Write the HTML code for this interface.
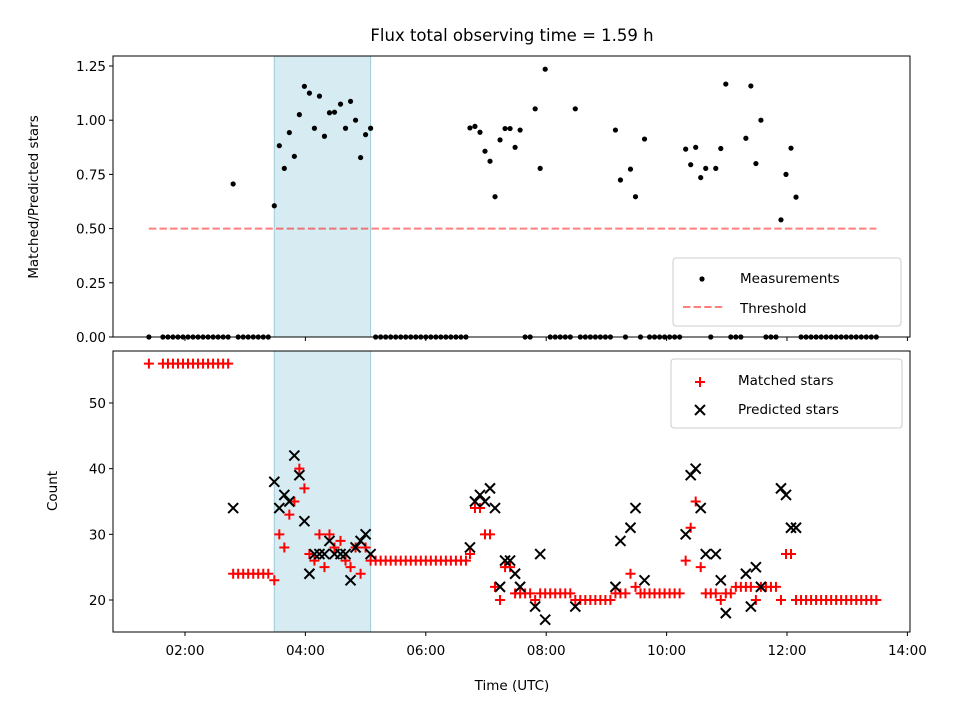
<!DOCTYPE html>
<html><head><meta charset="utf-8"><style>
body{margin:0;background:#fff}
svg{display:block;font-family:"DejaVu Sans","Liberation Sans",sans-serif}
</style></head><body>
<svg id="chart" width="960" height="720" xmlns="http://www.w3.org/2000/svg"></svg>
<script>
// data (time in minutes since 00:00 UTC)
const times = [84,98,103,108,113,118,123,128,133,138,143,148,153,158,163,168,173,178,183,188,193,198,203,209,214,219,224,229,234,239,244,249,254,259,264,269,275,280,285,290,295,300,305,310,315,320,325,330,335,340,345,350,355,360,365,370,375,380,385,390,395,400,404,409,414,419,424,429,434,439,444,449,454,459,464,469,474,479,484,489,494,499,504,509,514,519,524,529,534,539,544,549,554,559,564,569,574,578,583,588,593,598,603,608,613,619,624,629,634,639,644,649,654,659,664,669,674,679,684,689,694,699,704,709,714,719,724,729,734,739,744,749,754,759,764,769,774,779,784,789,794,799,804,809];
const matched = [56,56,56,56,56,56,56,56,56,56,56,56,56,56,56,24,24,24,24,24,24,24,24,23,30,28,33,35,40,37,27,26,30,25,30,28,29,26,25,28,24,28,26,26,26,26,26,26,26,26,26,26,26,26,26,26,26,26,26,26,26,26,27,34,34,30,30,22,20,25,25,21,21,21,21,20,21,21,21,21,21,21,21,20,20,20,20,20,20,20,20,21,21,21,24,22,21,21,21,21,21,21,21,21,21,26,31,35,25,21,21,21,20,21,21,22,22,22,22,20,22,22,22,22,20,27,27,20,20,20,20,20,20,20,20,20,20,20,20,20,20,20,20,20];
const predicted = [null,null,null,null,null,null,null,null,null,null,null,null,null,null,null,34,null,null,null,null,null,null,null,38,34,36,35,42,39,32,24,27,27,27,29,27,27,27,23,28,29,30,27,null,null,null,null,null,null,null,null,null,null,null,null,null,null,null,null,null,null,null,28,35,36,35,37,34,22,26,26,24,22,null,null,19,27,17,null,null,null,null,null,19,null,null,null,null,null,null,null,22,29,null,31,34,null,23,null,null,null,null,null,null,null,30,39,40,34,27,null,27,23,18,null,null,null,24,19,25,22,null,null,null,37,36,31,31,null,null,null,null,null,null,null,null,null,null,null,null,null,null,null,null];
const threshold = [0.5];
const thresholdRange = [84, 809];
const shadeRange = [209, 305];
const xTicks = [120,240,360,480,600,720,840];
const xTickLabels = ["02:00","04:00","06:00","08:00","10:00","12:00","14:00"];
const topTicks = [0,0.25,0.5,0.75,1.0,1.25];
const topTickLabels = ["0.00","0.25","0.50","0.75","1.00","1.25"];
const botTicks = [20,30,40,50];
const botTickLabels = ["20","30","40","50"];

const NS="http://www.w3.org/2000/svg";
const svg=document.getElementById('chart');
function mk(tag,attrs,parent){const e=document.createElementNS(NS,tag);for(const k in attrs)e.setAttribute(k,attrs[k]);(parent||svg).appendChild(e);return e;}
const L=113,R=910;
const X=t=>185+(t-120)*(120.4/120);
const topT=56,topB=337, botT=351,botB=632;
const Yt=v=>337-v*216.8;
const Yb=v=>600-(v-20)*6.567;

let e;
e=mk('text',{x:512,y:41,'text-anchor':'middle','font-size':16.5});e.textContent='Flux total observing time = 1.59 h';


e=mk('text',{x:0,y:0,'text-anchor':'middle','font-size':13.5,transform:'translate(38,197) rotate(-90)'});e.textContent='Matched/Predicted stars';


e=mk('text',{x:0,y:0,'text-anchor':'middle','font-size':13.5,transform:'translate(57,491) rotate(-90)'});e.textContent='Count';


e=mk('text',{x:512,y:690,'text-anchor':'middle','font-size':13.5});e.textContent='Time (UTC)';



[[topT,topB,'top'],[botT,botB,'bottom']].forEach(([a,b,n])=>{
  const r=mk('rect',{x:X(shadeRange[0]),y:a,width:X(shadeRange[1])-X(shadeRange[0]),height:b-a,fill:'#add8e6','fill-opacity':0.5,stroke:'#9fcbd9','stroke-width':1});
  
  
});

e=mk('line',{x1:X(thresholdRange[0]),x2:X(thresholdRange[1]),y1:Yt(threshold[0]),y2:Yt(threshold[0]),stroke:'#ff0000','stroke-opacity':0.5,'stroke-width':2,'stroke-dasharray':'7.4,3.2'});



times.forEach((t,i)=>{
  const p=predicted[i];
  const r=(p==null)?0:matched[i]/p;
  const c=mk('circle',{cx:X(t),cy:Yt(r),r:2.6,fill:'#000'});
  
  
});
times.forEach((t,i)=>{
  const x=X(t),y=Yb(matched[i]);
  const g=mk('path',{d:`M${x-5},${y}H${x+5}M${x},${y-5}V${y+5}`,stroke:'#ff0000','stroke-width':2});
  
  
});
times.forEach((t,i)=>{
  if(predicted[i]==null)return;
  const x=X(t),y=Yb(predicted[i]);
  const g=mk('path',{d:`M${x-5},${y-5}L${x+5},${y+5}M${x-5},${y+5}L${x+5},${y-5}`,stroke:'#000','stroke-width':2});
  
  
});

[[topT,topB,'top'],[botT,botB,'bottom']].forEach(([a,b,n])=>{
  const r=mk('rect',{x:L,y:a,width:R-L,height:b-a,fill:'none',stroke:'#000','stroke-width':1});
  
  
  xTicks.forEach(t=>{const l=mk('line',{x1:X(t),x2:X(t),y1:b,y2:b+4,stroke:'#000'});
    
    });
});
xTicks.forEach((t,i)=>{const tx=mk('text',{x:X(t),y:botB+23,'text-anchor':'middle','font-size':13.5});tx.textContent=xTickLabels[i];
  
  });
topTicks.forEach((v,i)=>{const y=Yt(v);mk('line',{x1:L-4,x2:L,y1:y,y2:y,stroke:'#000'});
  const tx=mk('text',{x:L-7,y:y+5,'text-anchor':'end','font-size':13.5});tx.textContent=topTickLabels[i];
  
  });
botTicks.forEach((v,i)=>{const y=Yb(v);mk('line',{x1:L-4,x2:L,y1:y,y2:y,stroke:'#000'});
  const tx=mk('text',{x:L-7,y:y+5,'text-anchor':'end','font-size':13.5});tx.textContent=botTickLabels[i];
  
  });

e=mk('rect',{x:673,y:258,width:228,height:68,rx:3,fill:'#fff','fill-opacity':0.8,stroke:'#ccc'});


mk('circle',{cx:702,cy:279,r:2.6,fill:'#000'});
e=mk('text',{x:740,y:283,'font-size':13.5});e.textContent='Measurements';


mk('line',{x1:683,x2:723,y1:307,y2:307,stroke:'#ff0000','stroke-opacity':0.5,'stroke-width':2,'stroke-dasharray':'7.4,3.2'});
e=mk('text',{x:740,y:313,'font-size':13.5});e.textContent='Threshold';



e=mk('rect',{x:671,y:359,width:231,height:69,rx:3,fill:'#fff','fill-opacity':0.8,stroke:'#ccc'});


mk('path',{d:'M695,382H705M700,377V387',stroke:'#ff0000','stroke-width':2});
e=mk('text',{x:738,y:385,'font-size':13.5});e.textContent='Matched stars';


mk('path',{d:'M695,405L705,415M695,415L705,405',stroke:'#000','stroke-width':2});
e=mk('text',{x:738,y:414,'font-size':13.5});e.textContent='Predicted stars';


</script>
</body></html>
